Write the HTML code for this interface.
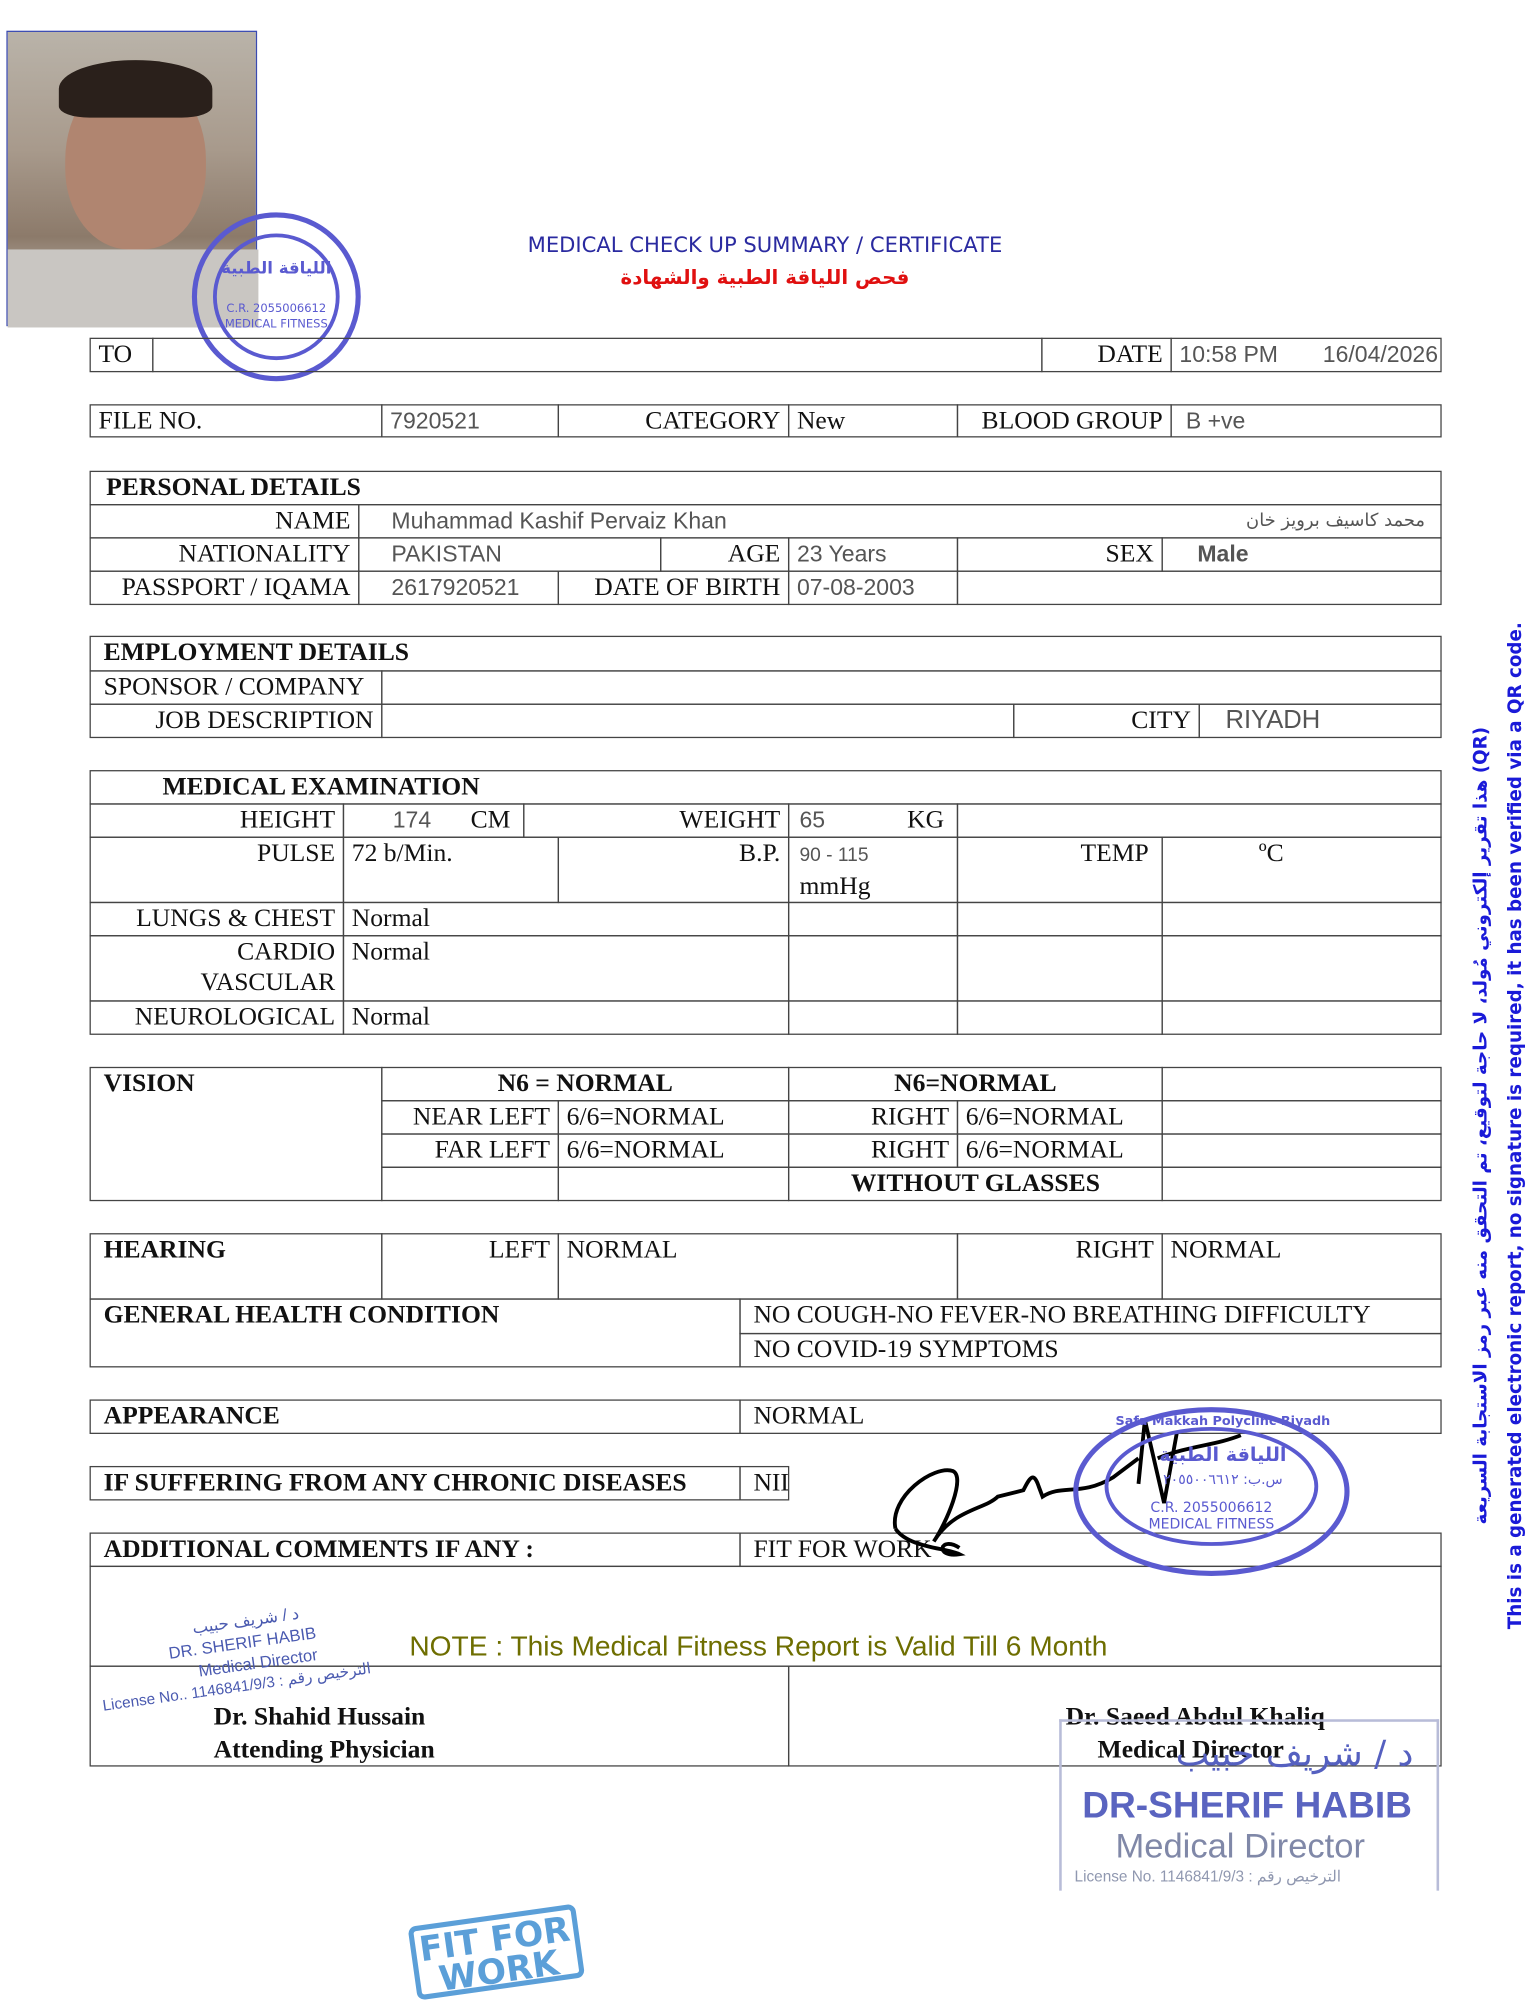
<!DOCTYPE html>
<html><head><meta charset="utf-8">
<style>
*{margin:0;padding:0;box-sizing:border-box}
html,body{width:1535px;height:2008px;background:#fff;overflow:hidden}
#w{position:absolute;left:0;top:0;width:1200px;height:1570px;transform:scale(1.2792);transform-origin:0 0}
.c{position:absolute;border:1.5px solid #444;font:20px/24px "Liberation Serif",serif;color:#111;white-space:nowrap;overflow:hidden;padding:0 6px}
.r{text-align:right}
.v{font-family:"Liberation Sans",sans-serif;color:#555;font-size:18px}
.b{font-weight:bold}
.ctr{text-align:center}
.abs{position:absolute;white-space:nowrap}
</style></head><body><div id="w">

<!-- photo -->
<div class="abs" style="left:5px;top:24px;width:196px;height:231px;border:1px solid #3a4ab0;background:linear-gradient(180deg,#b9b3a9 0%,#a89a8c 40%,#8c7a6a 70%,#d8d4cf 100%)">
 <div class="abs" style="left:45px;top:30px;width:110px;height:140px;border-radius:50% 50% 45% 45%;background:#b08570"></div>
 <div class="abs" style="left:40px;top:22px;width:120px;height:45px;border-radius:50% 50% 20% 20%;background:#2a201b"></div>
 <div class="abs" style="left:0;top:170px;width:196px;height:61px;background:#c9c6c2"></div>
</div>
<!-- stamp 1 -->
<svg class="abs" style="left:140px;top:160px" width="150" height="145">
 <circle cx="76" cy="72" r="64" fill="none" stroke="#5a5ad0" stroke-width="4"/>
 <circle cx="76" cy="72" r="48" fill="none" stroke="#5a5ad0" stroke-width="3"/>
 <text x="76" y="54" font-family="DejaVu Sans" font-size="13" fill="#5a5ad0" text-anchor="middle" font-weight="bold">اللياقة الطبية</text>
 <text x="76" y="84" font-family="DejaVu Sans" font-size="9" fill="#5a5ad0" text-anchor="middle">C.R. 2055006612</text>
 <text x="76" y="96" font-family="DejaVu Sans" font-size="9" fill="#5a5ad0" text-anchor="middle">MEDICAL FITNESS</text>
</svg>

<div class="abs" style="left:0;width:1196px;top:182px;text-align:center;font:16.5px 'DejaVu Sans',sans-serif;color:#2a2aa0">MEDICAL CHECK UP SUMMARY / CERTIFICATE</div>
<div class="abs" style="left:0;width:1196px;top:208px;text-align:center;font:bold 15.5px 'DejaVu Sans',sans-serif;color:#e01010">فحص اللياقة الطبية والشهادة</div>

<!-- TO row -->
<div class="c" style="left:70px;top:264px;width:50px;height:27px">TO</div>
<div class="c" style="left:119px;top:264px;width:696px;height:27px"></div>
<div class="c r" style="left:814px;top:264px;width:102px;height:27px">DATE</div>
<div class="c v" style="left:915px;top:264px;width:212px;height:27px">10:58 PM&nbsp;&nbsp;&nbsp;&nbsp;&nbsp;&nbsp;&nbsp;16/04/2026</div>

<!-- File row -->
<div class="c" style="left:70px;top:316px;width:229px;height:26px">FILE NO.</div>
<div class="c v" style="left:298px;top:316px;width:139px;height:26px">7920521</div>
<div class="c r" style="left:436px;top:316px;width:181px;height:26px">CATEGORY</div>
<div class="c" style="left:616px;top:316px;width:133px;height:26px">New</div>
<div class="c r" style="left:748px;top:316px;width:168px;height:26px">BLOOD GROUP</div>
<div class="c v" style="left:915px;top:316px;width:212px;height:26px">&nbsp;B +ve</div>

<!-- Personal -->
<div class="c b" style="left:70px;top:368px;width:1057px;height:27px;padding-left:12px">PERSONAL DETAILS</div>
<div class="c r" style="left:70px;top:394px;width:211px;height:27px">NAME</div>
<div class="c v" style="left:280px;top:394px;width:847px;height:27px;padding-left:25px">Muhammad Kashif Pervaiz Khan<span style="position:absolute;right:12px;font-family:'DejaVu Sans';font-size:14px">محمد كاسيف برويز خان</span></div>
<div class="c r" style="left:70px;top:420px;width:211px;height:27px">NATIONALITY</div>
<div class="c v" style="left:280px;top:420px;width:237px;height:27px;padding-left:25px">PAKISTAN</div>
<div class="c r" style="left:516px;top:420px;width:101px;height:27px">AGE</div>
<div class="c v" style="left:616px;top:420px;width:133px;height:27px">23 Years</div>
<div class="c r" style="left:748px;top:420px;width:161px;height:27px">SEX</div>
<div class="c v b" style="left:908px;top:420px;width:219px;height:27px;padding-left:27px">Male</div>
<div class="c r" style="left:70px;top:446px;width:211px;height:27px">PASSPORT / IQAMA</div>
<div class="c v" style="left:280px;top:446px;width:157px;height:27px;padding-left:25px">2617920521</div>
<div class="c r" style="left:436px;top:446px;width:181px;height:27px">DATE OF BIRTH</div>
<div class="c v" style="left:616px;top:446px;width:133px;height:27px">07-08-2003</div>
<div class="c" style="left:748px;top:446px;width:379px;height:27px"></div>

<!-- Employment -->
<div class="c b" style="left:70px;top:497px;width:1057px;height:28px;padding-left:10px">EMPLOYMENT DETAILS</div>
<div class="c" style="left:70px;top:524px;width:229px;height:27px;padding-left:10px">SPONSOR / COMPANY</div>
<div class="c" style="left:298px;top:524px;width:829px;height:27px"></div>
<div class="c r" style="left:70px;top:550px;width:229px;height:27px">JOB DESCRIPTION</div>
<div class="c" style="left:298px;top:550px;width:495px;height:27px"></div>
<div class="c r" style="left:792px;top:550px;width:146px;height:27px">CITY</div>
<div class="c v" style="left:937px;top:550px;width:190px;height:27px;font-size:20px;padding-left:20px">RIYADH</div>

<!-- Medical -->
<div class="c b" style="left:70px;top:602px;width:1057px;height:27px;padding-left:56px">MEDICAL EXAMINATION</div>
<div class="c r" style="left:70px;top:628px;width:199px;height:27px">HEIGHT</div>
<div class="c" style="left:268px;top:628px;width:142px;height:27px"><span class="v" style="position:absolute;left:38px">174</span><span style="position:absolute;right:10px">CM</span></div>
<div class="c r" style="left:409px;top:628px;width:208px;height:27px">WEIGHT</div>
<div class="c" style="left:616px;top:628px;width:133px;height:27px"><span class="v" style="position:absolute;left:8px">65</span><span style="position:absolute;right:10px">KG</span></div>
<div class="c" style="left:748px;top:628px;width:379px;height:27px"></div>
<div class="c r" style="left:70px;top:654px;width:199px;height:52px">PULSE</div>
<div class="c" style="left:268px;top:654px;width:169px;height:52px">72 b/Min.</div>
<div class="c r" style="left:436px;top:654px;width:181px;height:52px">B.P.</div>
<div class="c" style="left:616px;top:654px;width:133px;height:52px;padding-left:8px"><span class="v" style="font-size:15px">90 - 115</span><br>mmHg</div>
<div class="c r" style="left:748px;top:654px;width:161px;height:52px;padding-right:10px">TEMP</div>
<div class="c" style="left:908px;top:654px;width:219px;height:52px;padding-left:75px">ºC</div>
<div class="c r" style="left:70px;top:705px;width:199px;height:27px">LUNGS &amp; CHEST</div>
<div class="c" style="left:268px;top:705px;width:349px;height:27px">Normal</div>
<div class="c r" style="left:70px;top:731px;width:199px;height:52px">CARDIO<br>VASCULAR</div>
<div class="c" style="left:268px;top:731px;width:349px;height:52px">Normal</div>
<div class="c r" style="left:70px;top:782px;width:199px;height:27px">NEUROLOGICAL</div>
<div class="c" style="left:268px;top:782px;width:349px;height:27px">Normal</div>
<div class="c" style="left:616px;top:705px;width:133px;height:27px"></div><div class="c" style="left:748px;top:705px;width:161px;height:27px"></div><div class="c" style="left:908px;top:705px;width:219px;height:27px"></div>
<div class="c" style="left:616px;top:731px;width:133px;height:52px"></div><div class="c" style="left:748px;top:731px;width:161px;height:52px"></div><div class="c" style="left:908px;top:731px;width:219px;height:52px"></div>
<div class="c" style="left:616px;top:782px;width:133px;height:27px"></div><div class="c" style="left:748px;top:782px;width:161px;height:27px"></div><div class="c" style="left:908px;top:782px;width:219px;height:27px"></div>

<!-- Vision -->
<div class="c b" style="left:70px;top:834px;width:229px;height:105px;padding-left:10px">VISION</div>
<div class="c b ctr" style="left:298px;top:834px;width:319px;height:27px">N6 = NORMAL</div>
<div class="c b ctr" style="left:616px;top:834px;width:293px;height:27px">N6=NORMAL</div>
<div class="c" style="left:908px;top:834px;width:219px;height:27px"></div>
<div class="c r" style="left:298px;top:860px;width:139px;height:27px">NEAR LEFT</div>
<div class="c" style="left:436px;top:860px;width:181px;height:27px">6/6=NORMAL</div>
<div class="c r" style="left:616px;top:860px;width:133px;height:27px">RIGHT</div>
<div class="c" style="left:748px;top:860px;width:161px;height:27px">6/6=NORMAL</div>
<div class="c" style="left:908px;top:860px;width:219px;height:27px"></div>
<div class="c r" style="left:298px;top:886px;width:139px;height:27px">FAR LEFT</div>
<div class="c" style="left:436px;top:886px;width:181px;height:27px">6/6=NORMAL</div>
<div class="c r" style="left:616px;top:886px;width:133px;height:27px">RIGHT</div>
<div class="c" style="left:748px;top:886px;width:161px;height:27px">6/6=NORMAL</div>
<div class="c" style="left:908px;top:886px;width:219px;height:27px"></div>
<div class="c" style="left:298px;top:912px;width:139px;height:27px"></div>
<div class="c" style="left:436px;top:912px;width:181px;height:27px"></div>
<div class="c b ctr" style="left:616px;top:912px;width:293px;height:27px">WITHOUT GLASSES</div>
<div class="c" style="left:908px;top:912px;width:219px;height:27px"></div>

<!-- Hearing -->
<div class="c b" style="left:70px;top:964px;width:229px;height:52px;padding-left:10px">HEARING</div>
<div class="c r" style="left:298px;top:964px;width:139px;height:52px">LEFT</div>
<div class="c" style="left:436px;top:964px;width:313px;height:52px">NORMAL</div>
<div class="c r" style="left:748px;top:964px;width:161px;height:52px">RIGHT</div>
<div class="c" style="left:908px;top:964px;width:219px;height:52px">NORMAL</div>
<div class="c b" style="left:70px;top:1015px;width:509px;height:54px;padding-left:10px">GENERAL HEALTH CONDITION</div>
<div class="c" style="left:578px;top:1015px;width:549px;height:28px;padding-left:10px">NO COUGH-NO FEVER-NO BREATHING DIFFICULTY</div>
<div class="c" style="left:578px;top:1042px;width:549px;height:27px;padding-left:10px">NO COVID-19 SYMPTOMS</div>

<div class="c b" style="left:70px;top:1094px;width:509px;height:27px;padding-left:10px">APPEARANCE</div>
<div class="c" style="left:578px;top:1094px;width:549px;height:27px;padding-left:10px">NORMAL</div>

<div class="c b" style="left:70px;top:1146px;width:509px;height:27px;padding-left:10px">IF SUFFERING FROM ANY CHRONIC DISEASES</div>
<div class="c" style="left:578px;top:1146px;width:39px;height:27px;padding-left:10px">NIL</div>

<div class="c b" style="left:70px;top:1198px;width:509px;height:27px;padding-left:10px">ADDITIONAL COMMENTS IF ANY :</div>
<div class="c" style="left:578px;top:1198px;width:549px;height:27px;padding-left:10px">FIT FOR WORK</div>
<div class="c" style="left:70px;top:1224px;width:1057px;height:79px"></div>
<div class="abs" style="left:320px;top:1274px;font:22px 'Liberation Sans',sans-serif;color:#6e6e00">NOTE : This Medical Fitness Report is Valid Till 6 Month</div>
<div class="c b" style="left:70px;top:1302px;width:547px;height:79px;padding:26px 0 0 96px;line-height:26px">Dr. Shahid Hussain<br>Attending Physician</div>
<div class="c b" style="left:616px;top:1302px;width:511px;height:79px;padding:26px 0 0 216px;line-height:26px">Dr. Saeed Abdul Khaliq<br>&nbsp;&nbsp;&nbsp;&nbsp;&nbsp;Medical Director</div>

<!-- left stamp text -->
<div class="abs" style="left:72px;top:1275px;transform:rotate(-8deg);transform-origin:0 0;font:13px 'Liberation Sans',sans-serif;color:#4a5ab0;line-height:17px;text-align:center;width:200px">
<div style="padding-left:40px">د / شريف حبيب</div><div style="padding-left:30px">DR. SHERIF HABIB</div><div style="padding-left:50px">Medical Director</div><div style="font-size:12px">License No.. 1146841/9/3 : الترخيص رقم</div></div>

<!-- signature -->
<svg class="abs" style="left:690px;top:1100px" width="300" height="130">
 <path d="M10 95 C 5 70, 40 45, 55 50 C 65 55, 50 90, 40 105 C 55 80, 80 80, 90 70 L 110 65 C 115 55,118 50,122 62 L 125 70 C 140 60, 155 70, 180 55 L 200 40" fill="none" stroke="#000" stroke-width="3"/>
 <path d="M10 95 C 20 110, 50 110, 60 115 C 40 118, 45 100, 60 110" fill="none" stroke="#000" stroke-width="3"/>
 <path d="M200 60 L 205 10 L 220 75 L 230 20 M 215 40 C 240 30, 260 30, 280 22" fill="none" stroke="#000" stroke-width="3"/>
</svg>
<!-- stamp 2 -->
<svg class="abs" style="left:836px;top:1098px" width="222" height="140">
 <ellipse cx="111" cy="68" rx="106" ry="64" fill="none" stroke="#5a5ad0" stroke-width="4"/>
 <ellipse cx="111" cy="64" rx="82" ry="45" fill="none" stroke="#5a5ad0" stroke-width="3"/>
 <text x="120" y="16" font-family="DejaVu Sans" font-size="10" font-weight="bold" fill="#5a5ad0" text-anchor="middle">Safa Makkah Polyclinc Riyadh</text>
 <text x="120" y="44" font-family="DejaVu Sans" font-size="15" font-weight="bold" fill="#5a5ad0" text-anchor="middle">اللياقة الطبية</text>
 <text x="120" y="62" font-family="DejaVu Sans" font-size="11" fill="#5a5ad0" text-anchor="middle">س.ب: ٢٠٥٥٠٠٦٦١٢</text>
 <text x="111" y="84" font-family="DejaVu Sans" font-size="11" fill="#5a5ad0" text-anchor="middle">C.R. 2055006612</text>
 <text x="111" y="97" font-family="DejaVu Sans" font-size="11" fill="#5a5ad0" text-anchor="middle">MEDICAL FITNESS</text>
</svg>
<!-- director stamp -->
<div class="abs" style="left:828px;top:1344px;width:297px;height:134px;border:2px solid #b8bcd8;border-bottom:none">
 <div class="abs" style="right:18px;top:8px;font:28px 'DejaVu Sans',sans-serif;color:#5560c0">د / شريف حبيب</div>
 <div class="abs" style="left:16px;top:50px;font:bold 29px 'Liberation Sans',sans-serif;color:#5a64c0">DR-SHERIF HABIB</div>
 <div class="abs" style="left:42px;top:82px;font:27px 'Liberation Sans',sans-serif;color:#8088a8">Medical Director</div>
 <div class="abs" style="left:10px;top:114px;font:12px 'Liberation Sans',sans-serif;color:#9098b0">License No. 1146841/9/3 : الترخيص رقم</div>
</div>
<!-- fit for work -->
<div class="abs" style="left:322px;top:1497px;width:132px;height:58px;border:4px solid #5b9fd8;border-radius:6px;transform:rotate(-8deg);color:#5b9fd8;font:bold 27px/25px 'DejaVu Sans',sans-serif;text-align:center;padding-top:3px">FIT FOR<br>WORK</div>

<!-- vertical text -->
<div class="abs" style="left:1172px;top:880px;transform:translate(-50%,-50%) rotate(-90deg);font:bold 14.3px/27px 'DejaVu Sans',sans-serif;color:#1a1ad8;text-align:center">
<div>هذا تقرير إلكتروني مُولد، لا حاجة لتوقيع، تم التحقق منه عبر رمز الاستجابة السريعة (QR)</div>
<div>This is a generated electronic report, no signature is required, it has been verified via a QR code.</div>
</div>
</div></body></html>
